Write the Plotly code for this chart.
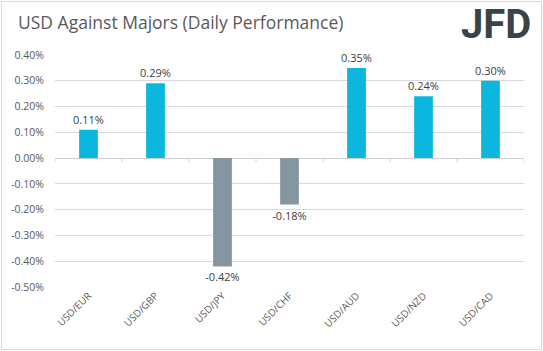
import plotly.graph_objects as go

categories = ["USD/EUR", "USD/GBP", "USD/JPY", "USD/CHF", "USD/AUD", "USD/NZD", "USD/CAD"]
values = [0.11, 0.29, -0.42, -0.18, 0.35, 0.24, 0.30]
labels = ["0.11%", "0.29%", "-0.42%", "-0.18%", "0.35%", "0.24%", "0.30%"]
y_ticks = [0.4, 0.3, 0.2, 0.1, 0.0, -0.1, -0.2, -0.3, -0.4, -0.5]
y_tick_labels = ["0.40%", "0.30%", "0.20%", "0.10%", "0.00%", "-0.10%", "-0.20%", "-0.30%", "-0.40%", "-0.50%"]

POS = "#0BB7DE"
NEG = "#8496A0"
colors = [POS if v >= 0 else NEG for v in values]

fig = go.Figure()
fig.add_trace(go.Bar(
    x=list(range(len(categories))), y=values,
    marker=dict(color=colors, line=dict(width=0)),
    text=labels, textposition="outside", cliponaxis=False, constraintext="none",
    textfont=dict(family="Open Sans", size=11, color="#404040"),
    width=0.28, hoverinfo="skip",
))

W, H = 543, 351
ml, mr, mt, mb = 55, 19, 55, 64
pw, ph = W - ml - mr, H - mt - mb

fig.update_layout(
    width=W, height=H,
    margin=dict(l=ml, r=mr, t=mt, b=mb),
    paper_bgcolor="white", plot_bgcolor="white",
    showlegend=False,
    font=dict(family="Open Sans", color="#595959"),
    xaxis=dict(
        range=[-0.5, len(categories) - 0.5],
        tickmode="array", tickvals=list(range(len(categories))), ticktext=categories,
        tickangle=-45, tickfont=dict(size=10, color="#595959"),
        showgrid=False, zeroline=False, showline=False, ticks="",
    ),
    yaxis=dict(
        range=[-0.5, 0.4],
        tickmode="array", tickvals=y_ticks, ticktext=y_tick_labels,
        tickfont=dict(size=10.5, color="#595959"),
        showgrid=True, gridcolor="#D9D9D9", gridwidth=1,
        zeroline=True, zerolinecolor="#D0D0D0", zerolinewidth=1,
        showline=False, ticks="", ticklen=0, ticklabelstandoff=10,
    ),
)

# category boundary tick marks below zero line
for i in range(len(categories) + 1):
    fig.add_shape(type="line", xref="x", yref="y domain",
                  x0=i - 0.5, x1=i - 0.5,
                  y0=(0 - (-0.5)) / 0.9, y1=(0 - (-0.5)) / 0.9 - 4 / ph,
                  line=dict(color="#D0D0D0", width=1))

# outer border
fig.add_shape(type="rect", xref="paper", yref="paper",
              x0=(1.5 - ml) / pw, x1=(541.5 - ml) / pw,
              y0=(H - mb - 349.5) / ph, y1=(H - mb - 1.5) / ph,
              line=dict(color="#D9D9D9", width=1), fillcolor="rgba(0,0,0,0)", layer="below")

fig.add_annotation(text="USD Against Majors (Daily Performance)", xref="paper", yref="paper",
                   x=(16 - ml) / pw, y=(H - mb - 22) / ph, xanchor="left", yanchor="middle",
                   showarrow=False, font=dict(family="Open Sans", size=17.5, color="#595959"))

fig.add_annotation(text="<b>JFD</b>", xref="paper", yref="paper",
                   x=(533 - ml) / pw, y=(H - mb - 24) / ph, xanchor="right", yanchor="middle",
                   showarrow=False, font=dict(family="Roboto", size=40, color="#3C4247"))

fig.write_html("out.html")
